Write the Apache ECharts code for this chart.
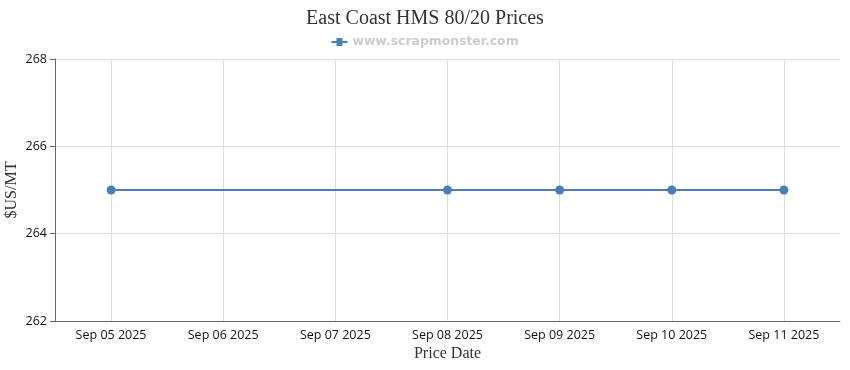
<!DOCTYPE html>
<html><head><meta charset="utf-8">
<script src="https://cdn.jsdelivr.net/npm/echarts@6/dist/echarts.min.js"></script>
<style>html,body{margin:0;padding:0;background:#fff}#c{width:850px;height:370px}</style>
</head><body><div id="c"></div>
<script>
const categories = ['Sep 05 2025','Sep 06 2025','Sep 07 2025','Sep 08 2025','Sep 09 2025','Sep 10 2025','Sep 11 2025'];
const prices = [265, null, null, 265, 265, 265, 265];
const seriesName = 'www.scrapmonster.com';
const yTicks = {min: 262, max: 268, interval: 2};

const chart = echarts.init(document.getElementById('c'), null, {renderer: 'canvas'});
chart.setOption({
  animation: false,
  backgroundColor: '#fff',
  title: {
    text: 'East Coast HMS 80/20 Prices',
    left: 'center', top: 4,
    textStyle: {fontFamily: 'Liberation Serif', fontSize: 20, fontWeight: 'normal', color: '#333'}
  },
  legend: {
    top: 31, left: 'center',
    itemWidth: 16, itemHeight: 8, itemGap: 6,
    data: [{name: seriesName, icon: 'path://M0,3H5V0H11V3H16V5H11V8H5V5H0Z'}],
    textStyle: {fontFamily: 'Verdana, DejaVu Sans', fontSize: 12.4, fontWeight: 'bold', color: '#cccccc'}
  },
  grid: {left: 55, right: 10, top: 59, bottom: 49, containLabel: false, outerBoundsMode: 'none'},
  xAxis: {
    type: 'category', data: categories, boundaryGap: true,
    name: 'Price Date', nameLocation: 'middle', nameGap: 25, nameMoveOverlap: false,
    nameTextStyle: {fontFamily: 'Liberation Serif', fontSize: 16, color: '#333'},
    axisLine: {lineStyle: {color: '#666'}},
    axisTick: {alignWithLabel: true, length: 5, lineStyle: {color: '#666'}},
    axisLabel: {fontFamily: 'Open Sans', fontSize: 12.5, color: '#111', margin: 8},
    splitLine: {show: true, alignWithLabel: true, lineStyle: {color: '#ddd'}}
  },
  yAxis: {
    type: 'value', min: yTicks.min, max: yTicks.max, interval: yTicks.interval,
    name: '$US/MT', nameLocation: 'middle', nameGap: 35, nameRotate: 90, nameMoveOverlap: false,
    nameTextStyle: {fontFamily: 'Liberation Serif', fontSize: 16, color: '#333'},
    axisLine: {show: true, lineStyle: {color: '#666'}},
    axisTick: {show: true, length: 5, lineStyle: {color: '#666'}},
    axisLabel: {fontFamily: 'Open Sans', fontSize: 12.5, color: '#111', margin: 8},
    splitLine: {show: true, lineStyle: {color: '#ddd'}}
  },
  series: [{
    name: seriesName, type: 'line', data: prices, connectNulls: true,
    symbol: 'circle', symbolSize: 9,
    itemStyle: {color: '#4a7ebb'},
    lineStyle: {color: '#4a7ebb', width: 2}
  }]
});
</script></body></html>
